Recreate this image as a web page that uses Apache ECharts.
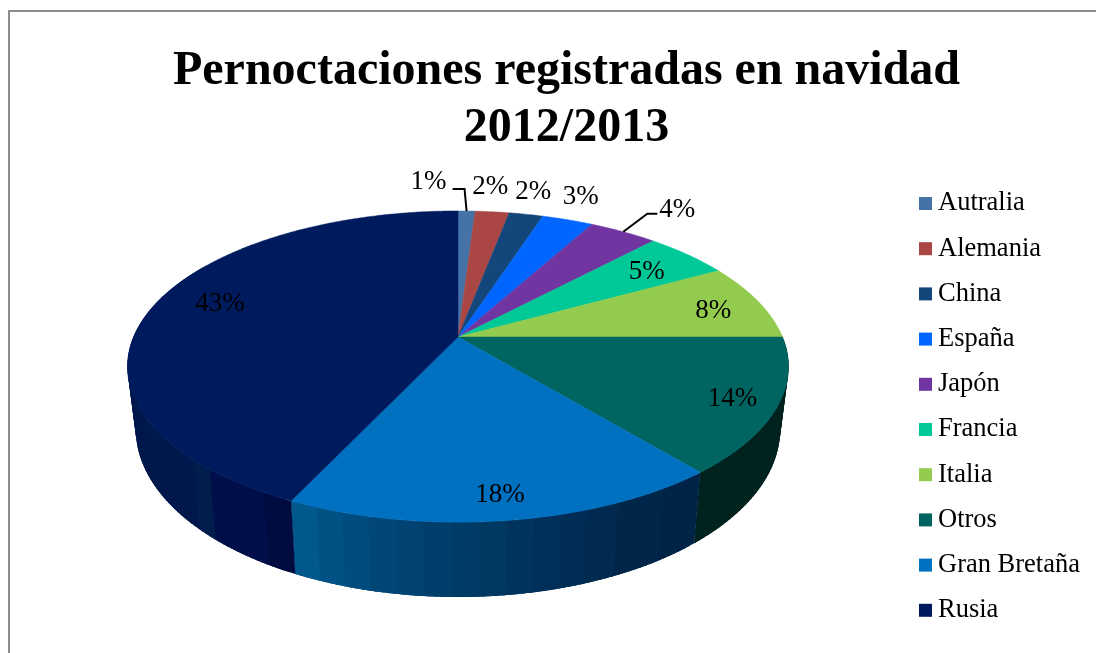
<!DOCTYPE html>
<html><head><meta charset="utf-8">
<style>html,body{margin:0;padding:0;background:#fff}#c{width:1096px;height:653px}</style>
<script src="https://cdn.jsdelivr.net/npm/echarts@6/dist/echarts.min.js"></script>
</head><body><div id="c"></div>
<script>
const categories = ['Autralia','Alemania','China','España','Japón','Francia','Italia','Otros','Gran Bretaña','Rusia'];
const values = [1,2,2,3,4,5,8,14,18,43];
const titleText = 'Pernoctaciones registradas en navidad\n2012/2013';
const colors = ['#4573A7','#AA4643','#13477B','#0066FF','#7035A0','#00C896','#92CB4D','#006460','#0070C0','#001A5E'];
// side wall: [end angle in degrees, colour] bands
const sideBands = {
  'Otros': [[142,'#00231F']],
  'Gran Bretaña': [[148,'#002448'],[156,'#00264a'],[161,'#002a50'],[165,'#002d55'],[169,'#00305a'],[173,'#00345e'],[177,'#003862'],[181,'#003b66'],[185,'#003e6c'],[189,'#004272'],[193,'#004777'],[197,'#004c7e'],[201,'#005285'],[206,'#00588c']],
  'Rusia': [[210,'#000c40'],[221,'#000f4a'],[225,'#001d4c'],[300,'#00184c']]
};
const labelOffsets = [[-38,-29],[-2,-25],[7,-22],[13,-23],[54,-22],[-41,17],[-45,10],[-45,-8],[-8,-25],[66,-2]];
const leaders = {0:[[0,0],[-2,-22],[-14,-22]], 4:[[0,0],[24,-18],[34,-18]]};

const pie = {cx:458, cy:337, a:324.5, b:150, k:0.19, bottomSx:0.975, bottomSy:1.08, depth:60};
const total = values.reduce((s,v)=>s+v,0);
function proj(deg){
  const t=deg*Math.PI/180, x=Math.sin(t), y=Math.cos(t), d=1+pie.k*y;
  return [pie.a*x/d, -pie.b*y/d];
}
const topPt = deg=>{const p=proj(deg);return [pie.cx+p[0],pie.cy+p[1]];};
const botPt = deg=>{const p=proj(deg);return [pie.cx+p[0]*pie.bottomSx,pie.cy+p[1]*pie.bottomSy+pie.depth];};
function arc(fn,a,b){const n=Math.max(2,Math.ceil(Math.abs(b-a)*2)),o=[];for(let i=0;i<=n;i++)o.push(fn(a+(b-a)*i/n));return o;}

function makeRender(i){
  let before=0; for(let j=0;j<i;j++) before+=values[j];
  return function(params,api){
    const v=api.value(0);
    const a0=before/total*360, a1=(before+v)/total*360, mid=(a0+a1)/2;
    const kids=[];
    const bands=sideBands[categories[i]];
    if(bands){
      let s=a0;
      for(const [end,col] of bands){
        const e=Math.min(end,a1);
        // small overlapping quads: the wall's silhouette follows the tangent between both rims, with no seams
        while(e>s){
          const t=Math.min(s+1,e), over=Math.min(t+1.5,a1);
          kids.push({type:'polygon',z2:1,shape:{points:[topPt(s),topPt(over),botPt(over),botPt(s)]},style:{fill:col}});
          s=t;
        }
      }
    }
    const topShape=[[pie.cx,pie.cy]].concat(arc(topPt,a0,a1));
    kids.push({type:'polygon',z2:5,shape:{points:topShape},style:{fill:colors[i],stroke:colors[i],lineWidth:0.5}});
    const edge=topPt(mid);
    if(leaders[i]){
      kids.push({type:'polyline',z2:8,shape:{points:leaders[i].map(p=>[edge[0]+p[0],edge[1]+p[1]])},style:{fill:null,stroke:'#000',lineWidth:2}});
    }
    kids.push({type:'text',z2:9,style:{text:v+'%',x:edge[0]+labelOffsets[i][0],y:edge[1]+labelOffsets[i][1],fill:'#000',align:'center',verticalAlign:'middle',font:'27px "Liberation Serif"'}});
    return {type:'group',children:kids};
  };
}

const chart=echarts.init(document.getElementById('c'),null,{renderer:'canvas'});
chart.setOption({
  animation:false,
  backgroundColor:'#fff',
  color:colors,
  title:{text:titleText,left:561.5,top:38,textAlign:'center',textStyle:{fontFamily:'Liberation Serif',fontWeight:'bold',fontSize:48,lineHeight:57,color:'#000'}},
  legend:{orient:'vertical',left:914,top:185,icon:'rect',itemWidth:13,itemHeight:13,itemGap:18.2,selectedMode:false,data:categories,
    textStyle:{fontFamily:'Liberation Serif',fontSize:26.5,color:'#000',lineHeight:25,padding:[0,0,0,1]}},
  graphic:[
    {type:'line',z:0,shape:{x1:9,y1:11,x2:1096,y2:11},style:{stroke:'#8c8c8c',lineWidth:2}},
    {type:'line',z:0,shape:{x1:9,y1:10,x2:9,y2:653},style:{stroke:'#8c8c8c',lineWidth:2}}
  ],
  series:categories.map((name,i)=>({
    type:'custom',name,coordinateSystem:'none',silent:true,clip:false,
    itemStyle:{color:colors[i]},
    renderItem:makeRender(i),
    data:[[values[i]]]
  }))
});
</script></body></html>
